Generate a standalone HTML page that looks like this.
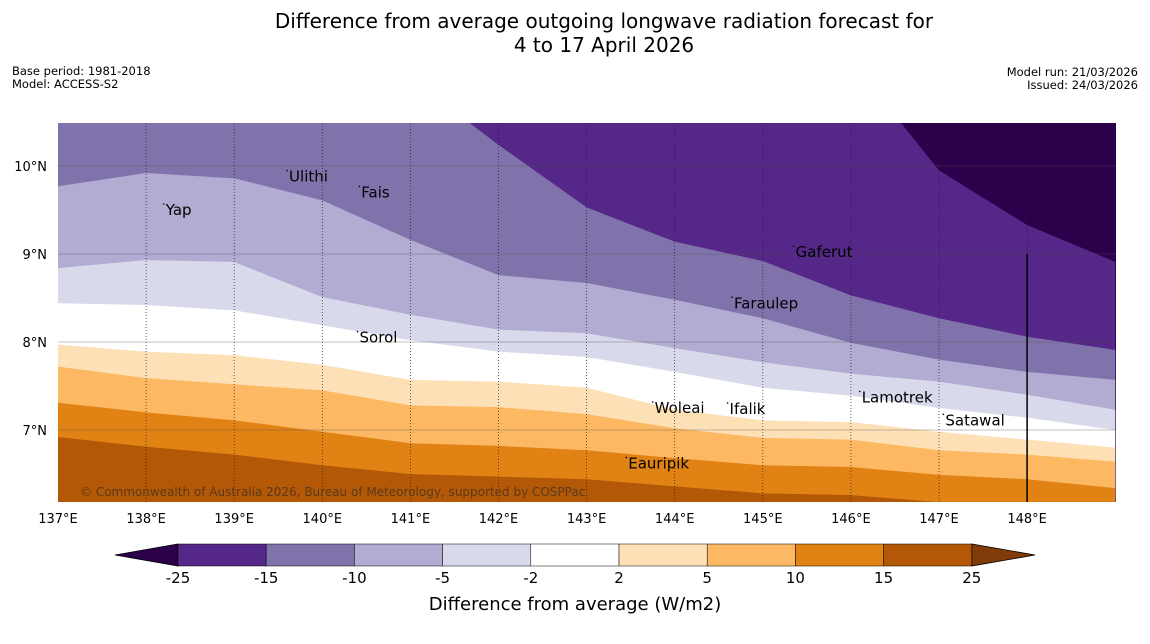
<!DOCTYPE html>
<html><head><meta charset="utf-8"><style>
body{margin:0;background:#fff;font-family:"Liberation Sans","DejaVu Sans",sans-serif;}
svg{display:block}
</style></head><body>
<svg id="c" width="1150" height="644" viewBox="0 0 1150 644" font-family="'DejaVu Sans','Liberation Sans',sans-serif">
<text x="604" y="28" text-anchor="middle" font-size="20">Difference from average outgoing longwave radiation forecast for</text>
<text x="604" y="52" text-anchor="middle" font-size="20">4 to 17 April 2026</text>
<text x="12" y="75" font-size="11.5">Base period: 1981-2018</text>
<text x="12" y="88" font-size="11.5">Model: ACCESS-S2</text>
<text x="1138" y="76" font-size="11.5" text-anchor="end">Model run: 21/03/2026</text>
<text x="1138" y="89" font-size="11.5" text-anchor="end">Issued: 24/03/2026</text>
<defs><clipPath id="pc"><rect x="58" y="123" width="1058" height="379"/></clipPath></defs>
<g id="bands" clip-path="url(#pc)"></g>
<g id="grid"></g>
<g id="places"></g>
<text x="80" y="496" font-size="12" fill="#5a3a1a">© Commonwealth of Australia 2026, Bureau of Meteorology, supported by COSPPac</text>
<g id="axes"></g>
<g id="cbar"></g>
<text x="575" y="610" text-anchor="middle" font-size="18">Difference from average (W/m2)</text>
</svg>
<script>
const lons=[137,138,139,140,141,142,143,144,145,146,147,148,149];
const bDarkest=[12,12,12,12,12,12,12,12,12,11.2,9.95,9.33,8.91];
const bM15=[11.8,11.6,11.4,11.2,11.0,10.24,9.53,9.14,8.92,8.53,8.27,8.06,7.91];
const bM10=[9.77,9.92,9.86,9.61,9.16,8.76,8.67,8.48,8.27,7.99,7.80,7.66,7.57];
const bM5=[8.84,8.93,8.91,8.51,8.31,8.14,8.10,7.93,7.77,7.64,7.55,7.40,7.23];
const bM2=[8.44,8.42,8.36,8.19,8.02,7.89,7.83,7.66,7.48,7.39,7.25,7.14,7.0];
const bP2=[7.97,7.89,7.85,7.74,7.57,7.55,7.48,7.23,7.11,7.09,6.98,6.89,6.80];
const bP5=[7.72,7.59,7.52,7.45,7.28,7.26,7.18,7.02,6.91,6.89,6.77,6.72,6.64];
const bP10=[7.31,7.20,7.11,6.98,6.85,6.82,6.77,6.68,6.60,6.58,6.49,6.44,6.34];
const bP15=[6.92,6.81,6.72,6.60,6.50,6.47,6.44,6.36,6.28,6.26,6.18,6.15,6.10];
const levels=["-25","-15","-10","-5","-2","2","5","10","15","25"];
const colors=["#542788","#8073ac","#b2abd2","#d8daeb","#ffffff","#fee0b6","#fdb863","#e08214","#b35806"];
const places=[["Yap",138.2,9.5],["Ulithi",139.6,9.88],["Fais",140.42,9.7],["Gaferut",145.35,9.02],["Faraulep",144.65,8.44],["Sorol",140.4,8.05],["Lamotrek",146.1,7.37],["Satawal",147.05,7.11],["Woleai",143.75,7.25],["Ifalik",144.6,7.24],["Eauripik",143.45,6.62]];
const NS="http://www.w3.org/2000/svg";
const X=lon=>58+88.1*(lon-137), Y=lat=>166+88*(10-lat);
function mk(t,a,p){const e=document.createElementNS(NS,t);for(const k in a)e.setAttribute(k,a[k]);p.appendChild(e);return e;}
const bands=document.getElementById('bands');
const bg=mk('rect',{x:58,y:123,width:1058,height:379,fill:'#2d004b'},bands);


const bounds=[bDarkest,bM15,bM10,bM5,bM2,bP2,bP5,bP10,bP15];
bounds.forEach((b,i)=>{
 let d='M'+X(lons[0])+','+Y(b[0]);
 for(let j=1;j<lons.length;j++)d+='L'+X(lons[j])+','+Y(b[j]);
 d+='L'+X(149)+',520L'+X(137)+',520Z';
 const p=mk('path',{d:d,fill:colors[i]},bands);
 
 
});
const grid=document.getElementById('grid');
for(let lon=138;lon<=148;lon++){
 const l=mk('line',{x1:X(lon),x2:X(lon),y1:123,y2:502,stroke:'#222','stroke-width':0.7,'stroke-dasharray':'1,2'},grid);
 
 
}
[10,9,8,7].forEach(lat=>{
 const l=mk('line',{x1:58,x2:1116,y1:Y(lat),y2:Y(lat),stroke:'#555','stroke-width':0.5,opacity:0.7},grid);
 
 
});
const bl=mk('line',{x1:X(148),x2:X(148),y1:Y(9),y2:502,stroke:'#000','stroke-width':1.5},grid);


const pg=document.getElementById('places');
places.forEach(p=>{
 const t=mk('text',{x:X(p[1])+2,y:Y(p[2])+5,'font-size':15},pg);
 t.textContent=p[0];
 
 
 const d=mk('circle',{cx:X(p[1]),cy:Y(p[2])-6,r:0.8,fill:'#000'},pg);
 
 
});
const ax=document.getElementById('axes');
for(let lon=137;lon<=148;lon++){
 const t=mk('text',{x:X(lon),y:523,'font-size':13,'text-anchor':'middle'},ax);
 t.textContent=lon+'°E';
 
 
}
[10,9,8,7].forEach(lat=>{
 const t=mk('text',{x:47,y:Y(lat)+5,'font-size':13,'text-anchor':'end'},ax);
 t.textContent=lat+'°N';
 
 
});
const cb=document.getElementById('cbar');
const cx0=178,cw=88.2,cy=544,ch=22;
const tl=mk('polygon',{points:`${cx0},${cy} ${cx0},${cy+ch} 115,${cy+ch/2}`,fill:'#2d004b',stroke:'#000','stroke-width':0.8},cb);


const xe=cx0+cw*colors.length;
const tr=mk('polygon',{points:`${xe},${cy} ${xe},${cy+ch} 1035,${cy+ch/2}`,fill:'#7f3b08',stroke:'#000','stroke-width':0.8},cb);


colors.forEach((c,i)=>{
 const r=mk('rect',{x:cx0+i*cw,y:cy,width:cw,height:ch,fill:c,stroke:'#000','stroke-width':0.5},cb);
 
 
});
levels.forEach((v,i)=>{
 const t=mk('text',{x:cx0+i*cw,y:583,'font-size':15,'text-anchor':'middle'},cb);
 t.textContent=v;
 
 
});
</script>
</body></html>
